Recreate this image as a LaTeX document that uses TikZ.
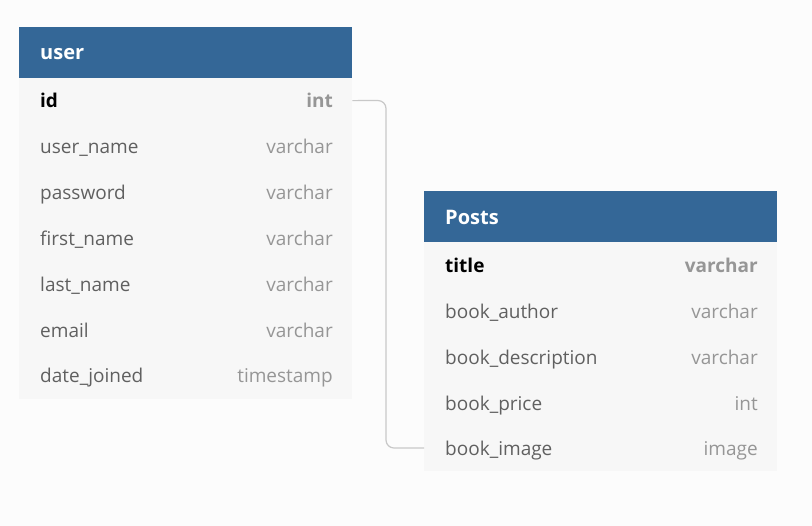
\documentclass[tikz,border=0pt]{standalone}
\usepackage{fontspec}
\setmainfont{Open Sans}
\definecolor{hdr}{RGB}{52,103,151}
\definecolor{body}{RGB}{247,247,247}
\definecolor{bg}{RGB}{252,252,252}
\definecolor{fname}{RGB}{96,96,96}
\definecolor{ftype}{RGB}{150,150,150}
\definecolor{conn}{RGB}{200,200,200}
\tikzset{
  hdrbox/.style={fill=hdr, draw=none, anchor=north west, minimum height=50.5pt, inner sep=0pt},
  rowbox/.style={fill=body, draw=none, anchor=north west, minimum height=45.85pt, inner sep=0pt},
  hdrtext/.style={anchor=base west, text=white, font=\fontsize{20}{23}\selectfont\bfseries, inner sep=0pt},
  nametext/.style={anchor=base west, text=fname, font=\fontsize{19}{22}\selectfont, inner sep=0pt},
  typetext/.style={anchor=base east, text=ftype, font=\fontsize{19}{22}\selectfont, inner sep=0pt},
  pknametext/.style={nametext, text=black, font=\fontsize{19}{22}\selectfont\bfseries},
  pktypetext/.style={typetext, font=\fontsize{19}{22}\selectfont\bfseries},
  connline/.style={draw=conn, line width=1.2pt, rounded corners=8pt}
}
\begin{document}
\begin{tikzpicture}[x=1pt,y=-1pt]
\fill[bg] (0,0) rectangle (812,526);
\useasboundingbox (0,0) rectangle (812,526);
% user table
\node[hdrbox, minimum width=333pt] (uh) at (19,27) {};
\node[hdrtext] (uht) at (40,59.5) {user};
\foreach \i [count=\k from 0] in {uid,uun,upw,ufn,uln,uem,udj}{
  \node[rowbox, minimum width=333pt] (\i) at (19,77.5+45.85*\k) {};
}
\node[pknametext] (uidn) at (40,107.8) {id};
\node[pktypetext] (uidt) at (333,107.8) {int};
\foreach \i/\n/\t [count=\k from 1] in {uun/user\_name/varchar, upw/password/varchar, ufn/first\_name/varchar, uln/last\_name/varchar, uem/email/varchar, udj/date\_joined/timestamp}{
  \node[nametext] (\i n) at (40,107.8+45.85*\k) {\n};
  \node[typetext] (\i t) at (333,107.8+45.85*\k) {\t};
}
% Posts table
\node[hdrbox, minimum width=353pt] (ph) at (424,191) {};
\node[hdrtext] (pht) at (445,224.5) {Posts};
\foreach \i [count=\k from 0] in {pti,pba,pbd,pbp,pbi}{
  \node[rowbox, minimum width=353pt] (\i) at (424,241.5+45.85*\k) {};
}
\node[pknametext] (ptin) at (445,272.5) {title};
\node[pktypetext] (ptit) at (758,272.5) {varchar};
\foreach \i/\n/\t [count=\k from 1] in {pba/book\_author/varchar, pbd/book\_description/varchar, pbp/book\_price/int, pbi/book\_image/image}{
  \node[nametext] (\i n) at (445,272.5+45.85*\k) {\n};
  \node[typetext] (\i t) at (758,272.5+45.85*\k) {\t};
}
% connector
\coordinate (bend) at (386,100.5);
\draw[connline] (uid.east) -- (bend) |- (pbi.west);
\end{tikzpicture}
\end{document}
